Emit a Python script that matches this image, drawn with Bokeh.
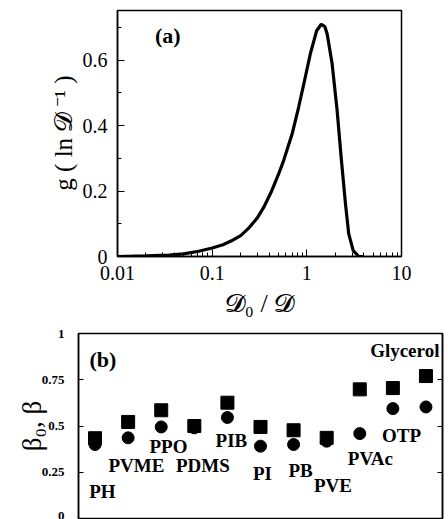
from bokeh.plotting import figure
from bokeh.models import (FixedTicker, NumeralTickFormatter, LinearAxis, Label,
                          LabelSet, ColumnDataSource, Range1d)
from bokeh.embed import file_html
from bokeh.resources import INLINE

# ---------------- panel (a) data ----------------
ratio = [0.01, 0.02, 0.035, 0.05, 0.072, 0.1, 0.13, 0.16, 0.2, 0.24, 0.3, 0.35,
         0.42, 0.5, 0.57, 0.7, 0.82, 0.93, 1.09, 1.27, 1.42, 1.55, 1.64, 1.85,
         2.09, 2.32, 2.56, 2.77, 3.09, 3.54, 4.0]
g_val = [0.0, 0.002, 0.004, 0.008, 0.016, 0.026, 0.036, 0.048, 0.064, 0.085, 0.118,
         0.15, 0.197, 0.25, 0.294, 0.375, 0.457, 0.528, 0.62, 0.69, 0.71, 0.703,
         0.68, 0.589, 0.446, 0.294, 0.161, 0.069, 0.018, 0.0, 0.0]
xa_ticks = [0.01, 0.1, 1, 10]
ya_ticks = [0, 0.2, 0.4, 0.6]
ya_minor = [0.1, 0.3, 0.5, 0.7]

# ---------------- panel (b) data ----------------
materials = ["PH", "PVME", "PPO", "PDMS", "PIB", "PI", "PB", "PVE", "PVAc", "OTP", "Glycerol"]
beta0 = [0.434, 0.522, 0.585, 0.50, 0.626, 0.495, 0.477, 0.436, 0.698, 0.705, 0.77]
beta = [0.40, 0.436, 0.495, 0.49, 0.546, 0.391, 0.40, 0.418, 0.459, 0.594, 0.603]
yb_ticks = [0, 0.25, 0.5, 0.75, 1]

# label placement (offset of each name from its column, and its height)
label_dx = [0.22, 0.25, 0.22, 0.26, 0.12, 0.06, 0.21, 0.19, 0.32, 0.26, -0.64]
label_y = [0.148, 0.288, 0.388, 0.288, 0.423, 0.243, 0.261, 0.178, 0.323, 0.45, 0.908]

SERIF = "Liberation Serif"

# ---------------- figure (a) ----------------
pa = figure(width=448, height=326, x_axis_type="log",
            x_range=Range1d(0.01, 10), y_range=Range1d(0, 0.752),
            output_backend="svg", toolbar_location=None,
            min_border_left=117, min_border_right=47,
            min_border_top=10, min_border_bottom=70)
pa.grid.visible = False
pa.outline_line_color = "black"
pa.outline_line_width = 1.5
pa.background_fill_color = "white"
pa.border_fill_color = "white"

pa.line(ratio, g_val, line_width=3.2, color="black")

minor_log = [k * 10.0 ** e for e in (-2, -1, 0) for k in range(2, 10)]
xa = pa.xaxis[0]
xa.ticker = FixedTicker(ticks=xa_ticks, minor_ticks=minor_log)
xa.formatter = NumeralTickFormatter(format="0.[00]")
xa.axis_label = "𝓓₀ / 𝓓"

ya = pa.yaxis[0]
ya.ticker = FixedTicker(ticks=ya_ticks, minor_ticks=ya_minor)
ya.formatter = NumeralTickFormatter(format="0.[0]")
ya.axis_label = "g ( ln 𝓓 ⁻¹ )"

for ax in (xa, ya):
    ax.axis_line_width = 1.5
    ax.axis_line_color = "black"
    ax.major_tick_in = 7
    ax.major_tick_out = 0
    ax.minor_tick_in = 4
    ax.minor_tick_out = 0
    ax.major_tick_line_color = "black"
    ax.minor_tick_line_color = "black"
    ax.major_label_text_font = SERIF
    ax.major_label_text_font_size = "20px"
    ax.major_label_text_color = "black"
    ax.axis_label_text_font = SERIF
    ax.axis_label_text_font_style = "normal"
    ax.axis_label_text_color = "black"

xa.major_label_standoff = 9
xa.axis_label_text_font_size = "26px"
xa.axis_label_standoff = 6
ya.major_label_standoff = 10
ya.axis_label_text_font_size = "25px"
ya.axis_label_standoff = 3

pa.add_layout(Label(x=0.034, y=0.676, text="(a)", text_font=SERIF,
                    text_font_style="bold", text_font_size="22px",
                    text_align="center", text_baseline="middle", text_color="black"))

# ---------------- figure (b) ----------------
idx = list(range(1, len(materials) + 1))
pb = figure(width=448, height=193,
            x_range=Range1d(0.5, 11.5), y_range=Range1d(0, 1),
            x_axis_location=None,
            output_backend="svg", toolbar_location=None,
            min_border_left=78, min_border_right=6,
            min_border_top=7, min_border_bottom=1)
pb.grid.visible = False
pb.outline_line_color = "black"
pb.outline_line_width = 1.5
pb.background_fill_color = "white"
pb.border_fill_color = "white"

pb.scatter(idx, beta0, marker="square", size=13, color="black")
pb.scatter(idx, beta, marker="circle", size=12, color="black")

lab_src = ColumnDataSource(dict(x=[i + d for i, d in zip(idx, label_dx)],
                                y=label_y, text=materials))
pb.add_layout(LabelSet(x="x", y="y", text="text", source=lab_src,
                       text_font=SERIF, text_font_style="bold",
                       text_font_size="19px", text_align="center",
                       text_baseline="middle", text_color="black"))

yb = pb.yaxis[0]
yb.ticker = FixedTicker(ticks=yb_ticks)
yb.formatter = NumeralTickFormatter(format="0.[00]")
yb.axis_label = "β₀, β"

rb = LinearAxis(ticker=FixedTicker(ticks=yb_ticks))
rb.major_label_overrides = {t: "" for t in yb_ticks}
rb.major_label_standoff = 0
pb.add_layout(rb, "right")

for ax in (yb, rb):
    ax.axis_line_width = 1.5
    ax.axis_line_color = "black"
    ax.major_tick_in = 5
    ax.major_tick_out = 0
    ax.minor_tick_in = 0
    ax.minor_tick_out = 0
    ax.major_tick_line_color = "black"
    ax.major_tick_line_width = 1.2

yb.major_label_text_font = SERIF
yb.major_label_text_font_style = "bold"
yb.major_label_text_font_size = "13px"
yb.major_label_text_color = "black"
yb.major_label_standoff = 14
yb.axis_label_text_font = SERIF
yb.axis_label_text_font_style = "normal"
yb.axis_label_text_font_size = "27px"
yb.axis_label_text_color = "black"
yb.axis_label_standoff = -8

pb.add_layout(Label(x=1.24, y=0.862, text="(b)", text_font=SERIF,
                    text_font_style="bold", text_font_size="22px",
                    text_align="center", text_baseline="middle", text_color="black"))

open("out.html", "w").write(file_html([pa, pb], INLINE))
